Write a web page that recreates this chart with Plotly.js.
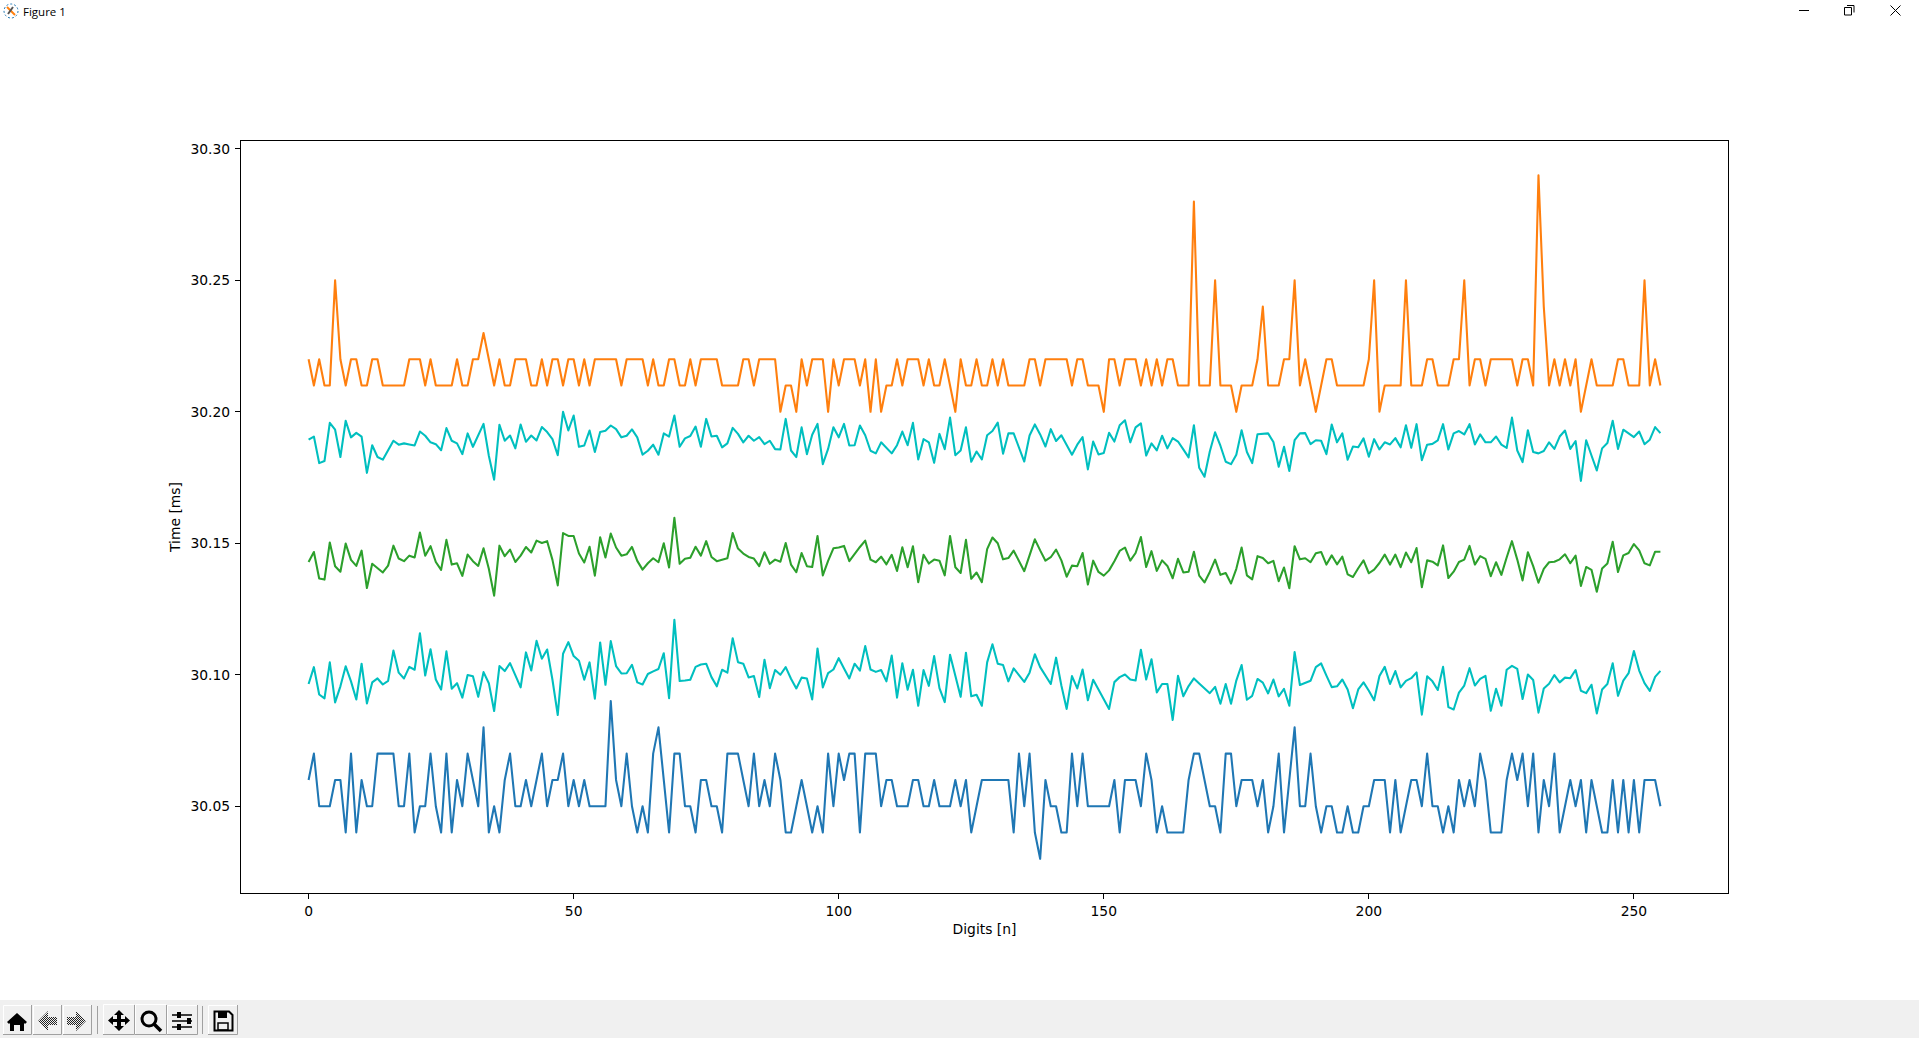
<!DOCTYPE html>
<html>
<head>
<meta charset="utf-8">
<title>Figure 1</title>
<script src="https://cdn.plot.ly/plotly-3.0.1.min.js"></script>
<style>
html,body{margin:0;padding:0;background:#fff;width:1919px;height:1038px;overflow:hidden}
#chart{position:absolute;left:0;top:0;width:1919px;height:1038px}
#chart path.js-line{stroke-linejoin:round !important;stroke-linecap:butt}
#wintitle{position:absolute;left:23px;top:3px;font:11.5px "Open Sans",sans-serif;color:#000;line-height:18px}
#toolbar{position:absolute;left:0;top:1000px;width:1919px;height:38px;background:#f0f0f0}
.ui{position:absolute}
</style>
</head>
<body>
<div id="chart"></div>
<svg class="ui" style="left:2px;top:2px" width="18" height="18" viewBox="0 0 18 18">
<circle cx="9" cy="9" r="7" fill="none" stroke="#1f77b4" stroke-width="1" stroke-dasharray="2 2"/>
<path d="M5 5L13 13" stroke="#ff7f0e" stroke-width="2"/><path d="M11 5L6 12" stroke="#555" stroke-width="2"/>
</svg>
<div id="wintitle">Figure 1</div>
<svg class="ui" style="left:1780px;top:0" width="139" height="30" viewBox="0 0 139 30">
<path d="M19 10.5H29" stroke="#000"/>
<path d="M67 5.5H74V12.5M64.5 7.500H71.500V15H64.500Z" fill="none" stroke="#000"/>
<path d="M110.5 5.5L120.5 15.5M120.5 5.5L110.5 15.5" stroke="#000"/>
</svg>
<div id="toolbar"></div>
<svg class="ui" style="left:0;top:1000px" width="260" height="38" viewBox="0 0 260 38">
<defs>
<pattern id="dither" width="2" height="2" patternUnits="userSpaceOnUse"><rect width="1" height="1" fill="#222"/><rect x="1" y="1" width="1" height="1" fill="#222"/></pattern>
</defs>
<g fill="none">
<path d="M3.5 34V5.5H31" stroke="#fff"/><path d="M31.5 5V34.5H3" stroke="#a0a0a0"/>
<path d="M33.5 34V5.5H61" stroke="#fff"/><path d="M61.5 5V34.5H33" stroke="#a0a0a0"/>
<path d="M63.5 34V5.5H91" stroke="#fff"/><path d="M91.5 5V34.5H63" stroke="#a0a0a0"/>
<path d="M97.5 6V34" stroke="#a0a0a0"/>
<path d="M103.5 34V4.5H134" stroke="#fff"/><path d="M134.5 5V34.5H103" stroke="#a0a0a0"/>
<path d="M135.5 34V4.5H166" stroke="#fff"/><path d="M166.5 5V34.5H135" stroke="#a0a0a0"/>
<path d="M167.5 34V5.5H197" stroke="#fff"/><path d="M197.5 5V34.5H167" stroke="#a0a0a0"/>
<path d="M202.5 6V34" stroke="#a0a0a0"/>
<path d="M208.5 34V5.5H237" stroke="#fff"/><path d="M237.5 5V34.5H208" stroke="#a0a0a0"/>
</g>
<path d="M7 22L17 13L27 22L25 24L24 23V31H20V25H14V31H10V23L9 24Z" fill="#000"/>
<path d="M38 21L48 11V17H57V25H48V31Z" fill="url(#dither)"/>
<path d="M86 21L76 11V17H67V25H76V31Z" fill="url(#dither)"/>
<path d="M119 10L124 15H121V19H125V16L130 20.500L125 25V22H121V26H124L119 31L114 26H117V22H113V25L108 20.500L113 16V19H117V15H114Z" fill="#000"/>
<circle cx="149" cy="19" r="7" fill="none" stroke="#000" stroke-width="3"/>
<path d="M154 24L161 31" stroke="#000" stroke-width="3.500"/>
<path d="M172 15H192M172 21H192M172 27H192" stroke="#000" stroke-width="1.500"/>
<rect x="177" y="12" width="4" height="6" fill="#000"/><rect x="187" y="18" width="4" height="6" fill="#000"/><rect x="177" y="24" width="4" height="6" fill="#000"/>
<path d="M214.500 11.500H229L232.500 15V30.500H214.500Z" fill="none" stroke="#000" stroke-width="2"/>
<rect x="218" y="12" width="9" height="6" fill="#000"/><rect x="218" y="23" width="10" height="7" fill="none" stroke="#000" stroke-width="1.500"/>
</svg>
<script>
const blue = [30.06,30.07,30.05,30.05,30.05,30.06,30.06,30.04,30.07,30.04,30.06,30.05,30.05,30.07,30.07,30.07,30.07,30.05,30.05,30.07,30.04,30.05,30.05,30.07,30.05,30.04,30.07,30.04,30.06,30.05,30.07,30.06,30.05,30.08,30.04,30.05,30.04,30.06,30.07,30.05,30.05,30.06,30.05,30.06,30.07,30.05,30.06,30.06,30.07,30.05,30.06,30.05,30.06,30.05,30.05,30.05,30.05,30.09,30.06,30.05,30.07,30.05,30.04,30.05,30.04,30.07,30.08,30.06,30.04,30.07,30.07,30.05,30.05,30.04,30.06,30.06,30.05,30.05,30.04,30.07,
30.07,30.07,30.06,30.05,30.07,30.05,30.06,30.05,30.07,30.06,30.04,30.04,30.05,30.06,30.05,30.04,30.05,30.04,30.07,30.05,30.07,30.06,30.07,30.07,30.04,30.07,30.07,30.07,30.05,30.06,30.06,30.05,30.05,30.05,30.06,30.06,30.05,30.05,30.06,30.05,30.05,30.05,30.06,30.05,30.06,30.04,30.05,30.06,30.06,30.06,30.06,30.06,30.06,30.04,30.07,30.05,30.07,30.04,30.03,30.06,30.05,30.05,30.04,30.04,30.07,30.05,30.07,30.05,30.05,30.05,30.05,30.05,30.06,30.04,30.06,30.06,30.06,30.05,30.07,30.06,30.04,30.05,30.04,30.04,30.04,30.04,30.06,30.07,30.07,30.06,30.05,30.05,
30.04,30.07,30.07,30.05,30.06,30.06,30.06,30.05,30.06,30.04,30.05,30.07,30.04,30.06,30.08,30.05,30.05,30.07,30.05,30.04,30.05,30.05,30.04,30.04,30.05,30.04,30.04,30.05,30.05,30.06,30.06,30.06,30.04,30.06,30.04,30.05,30.06,30.06,30.05,30.07,30.05,30.05,30.04,30.05,30.04,30.06,30.05,30.06,30.05,30.07,30.06,30.04,30.04,30.04,30.06,30.07,30.06,30.07,30.05,30.07,30.04,30.06,30.05,30.07,30.04,30.05,30.06,30.05,30.06,30.04,30.06,30.05,30.04,30.04,30.06,30.04,30.06,30.04,30.06,30.04,30.06,30.06,30.06,30.05];

const orange = [30.22,30.21,30.22,30.21,30.21,30.25,30.22,30.21,30.22,30.22,30.21,30.21,30.22,30.22,30.21,30.21,30.21,30.21,30.21,30.22,30.22,30.22,30.21,30.22,30.21,30.21,30.21,30.21,30.22,30.21,30.21,30.22,30.22,30.23,30.22,30.21,30.22,30.21,30.21,30.22,30.22,30.22,30.21,30.21,30.22,30.21,30.22,30.22,30.21,30.22,30.22,30.21,30.22,30.21,30.22,30.22,30.22,30.22,30.22,30.21,30.22,30.22,30.22,30.22,30.21,30.22,30.21,30.21,30.22,30.22,30.21,30.21,30.22,30.21,30.22,30.22,30.22,30.22,30.21,30.21,
30.21,30.21,30.22,30.22,30.21,30.22,30.22,30.22,30.22,30.20,30.21,30.21,30.20,30.22,30.21,30.22,30.22,30.22,30.20,30.22,30.21,30.22,30.22,30.22,30.21,30.22,30.20,30.22,30.20,30.21,30.21,30.22,30.21,30.22,30.22,30.22,30.21,30.22,30.21,30.21,30.22,30.21,30.20,30.22,30.21,30.21,30.22,30.21,30.21,30.22,30.21,30.22,30.21,30.21,30.21,30.21,30.22,30.22,30.21,30.22,30.22,30.22,30.22,30.22,30.21,30.22,30.22,30.21,30.21,30.21,30.20,30.22,30.22,30.21,30.22,30.22,30.22,30.21,30.22,30.21,30.22,30.21,30.22,30.22,30.21,30.21,30.21,30.28,30.21,30.21,30.21,30.25,
30.21,30.21,30.21,30.20,30.21,30.21,30.21,30.22,30.24,30.21,30.21,30.21,30.22,30.22,30.25,30.21,30.22,30.21,30.20,30.21,30.22,30.22,30.21,30.21,30.21,30.21,30.21,30.21,30.22,30.25,30.20,30.21,30.21,30.21,30.21,30.25,30.21,30.21,30.21,30.22,30.22,30.21,30.21,30.21,30.22,30.22,30.25,30.21,30.22,30.22,30.21,30.22,30.22,30.22,30.22,30.22,30.21,30.22,30.22,30.21,30.29,30.24,30.21,30.22,30.21,30.22,30.21,30.22,30.20,30.21,30.22,30.21,30.21,30.21,30.21,30.22,30.22,30.21,30.21,30.21,30.25,30.21,30.22,30.21];

const cyanUpper = [30.1894,30.1906,30.1805,30.1813,30.1958,30.1932,30.1828,30.1966,30.1903,30.192,30.1906,30.1768,30.1873,30.1828,30.1818,30.1854,30.189,30.1875,30.188,30.1876,30.1872,30.1925,30.1909,30.1884,30.1877,30.1854,30.1938,30.189,30.188,30.1839,30.1918,30.1867,30.191,30.1954,30.1833,30.1742,30.1951,30.189,30.191,30.1861,30.1952,30.1886,30.191,30.1891,30.1942,30.1923,30.1896,30.1835,30.2,30.1929,30.1986,30.1867,30.1872,30.1929,30.1847,30.1923,30.1928,30.1948,30.1934,30.1903,30.1909,30.1933,30.1903,30.1837,30.1852,30.1875,30.1837,30.1918,30.1906,30.1986,30.1867,30.1899,30.1908,30.1944,30.1867,30.1973,30.1906,30.1909,30.1865,30.188,
30.1939,30.1916,30.1884,30.1909,30.189,30.1904,30.1877,30.189,30.1858,30.1857,30.1973,30.1853,30.1828,30.1941,30.1839,30.1913,30.1954,30.1801,30.1859,30.1941,30.1903,30.1954,30.1872,30.1873,30.1948,30.1911,30.1852,30.1842,30.1884,30.1863,30.1842,30.1873,30.1925,30.1873,30.1958,30.1819,30.1896,30.1884,30.1806,30.1916,30.1858,30.1978,30.1835,30.1853,30.1941,30.181,30.1849,30.1819,30.1911,30.1927,30.1959,30.1841,30.1918,30.1918,30.1866,30.1811,30.191,30.1952,30.1914,30.1868,30.1934,30.1889,30.1911,30.1873,30.1837,30.1875,30.1904,30.1781,30.1887,30.1838,30.1843,30.192,30.1887,30.1949,30.1968,30.1884,30.1941,30.1956,30.1834,30.188,30.1853,30.1909,30.1861,30.19,30.1887,30.1857,30.1827,30.1949,30.1787,30.1753,30.1849,30.1922,
30.1871,30.181,30.1801,30.1837,30.193,30.1847,30.1805,30.1915,30.1916,30.1918,30.1885,30.1791,30.1867,30.1775,30.1892,30.1918,30.1919,30.1877,30.1892,30.189,30.1839,30.1952,30.1884,30.1918,30.1818,30.1868,30.1865,30.1899,30.1829,30.1896,30.1857,30.1884,30.1876,30.19,30.1865,30.1949,30.1863,30.1953,30.1816,30.1875,30.1878,30.1891,30.1953,30.1857,30.1918,30.1927,30.1914,30.1953,30.1876,30.1914,30.1884,30.1884,30.1906,30.1875,30.1863,30.1978,30.1853,30.1809,30.193,30.1847,30.1842,30.1851,30.1884,30.1859,30.1906,30.1929,30.1859,30.1889,30.1737,30.1892,30.1834,30.1777,30.1861,30.1881,30.1966,30.1859,30.1932,30.1918,30.1904,30.1925,30.1877,30.1894,30.1942,30.1919];

const green = [30.1429,30.1467,30.1366,30.1362,30.1503,30.1413,30.1392,30.1499,30.1437,30.1414,30.1472,30.133,30.1422,30.1405,30.1389,30.1415,30.1491,30.1442,30.1432,30.1453,30.1446,30.1541,30.1453,30.1489,30.1429,30.1399,30.1513,30.1419,30.1424,30.1376,30.1457,30.1432,30.1414,30.1481,30.1403,30.1301,30.1491,30.1451,30.1476,30.1429,30.1453,30.1486,30.1465,30.151,30.1501,30.1508,30.1437,30.134,30.1539,30.1528,30.1528,30.1461,30.1427,30.1487,30.1377,30.1523,30.1446,30.1537,30.1484,30.1453,30.1458,30.1486,30.1433,30.14,30.1424,30.1443,30.1428,30.15,30.1408,30.1597,30.1422,30.1441,30.1445,30.1487,30.1453,30.1508,30.1448,30.1432,30.1439,30.1443,
30.1539,30.148,30.1461,30.1448,30.1442,30.1413,30.1466,30.1422,30.1438,30.143,30.1501,30.1419,30.139,30.1463,30.1413,30.141,30.1528,30.1378,30.1433,30.1481,30.1484,30.149,30.1432,30.1461,30.1486,30.151,30.1438,30.1428,30.1449,30.142,30.1456,30.1395,30.1485,30.1409,30.1489,30.1352,30.1456,30.1423,30.1438,30.1434,30.1378,30.1528,30.1409,30.1387,30.1513,30.1365,30.1389,30.1352,30.1478,30.1522,30.15,30.1439,30.1444,30.1472,30.1433,30.1394,30.1454,30.1515,30.1473,30.1434,30.1447,30.1476,30.1435,30.1373,30.1415,30.1413,30.1463,30.1343,30.1434,30.1391,30.1377,30.1397,30.1432,30.1471,30.1484,30.1434,30.1463,30.1524,30.141,30.147,30.1395,30.1435,30.1414,30.1367,30.1441,30.1389,30.1392,30.1468,30.1377,30.1351,30.1391,30.1438,
30.138,30.1387,30.1347,30.1403,30.1484,30.1378,30.1363,30.1451,30.1444,30.1424,30.1433,30.1356,30.1408,30.1329,30.1489,30.1439,30.1443,30.1428,30.1462,30.1467,30.1419,30.1454,30.142,30.1449,30.1382,30.1372,30.1405,30.1435,30.1386,30.14,30.1425,30.1457,30.1419,30.1457,30.1409,30.1465,30.1428,30.1482,30.1333,30.1435,30.143,30.1416,30.1492,30.1368,30.1392,30.1429,30.1438,30.149,30.1419,30.1451,30.1441,30.1375,30.1428,30.138,30.1446,30.1508,30.1438,30.1359,30.1466,30.1413,30.135,30.1403,30.1428,30.143,30.1439,30.1458,30.1424,30.1453,30.1338,30.141,30.1399,30.1316,30.1404,30.1423,30.1506,30.1391,30.1454,30.1463,30.1497,30.1473,30.1424,30.1416,30.1468,30.1468];

const cyanLower = [30.0965,30.1029,30.0925,30.091,30.1047,30.0895,30.0956,30.1032,30.0975,30.0906,30.1042,30.0891,30.0971,30.0986,30.0963,30.0977,30.1092,30.1008,30.0986,30.103,30.1019,30.1158,30.0997,30.1097,30.0982,30.0944,30.1089,30.0947,30.0968,30.0913,30.0999,30.0994,30.0916,30.101,30.0968,30.0862,30.1033,30.1014,30.1044,30.0999,30.0952,30.1085,30.1016,30.1129,30.1061,30.1096,30.0981,30.0847,30.108,30.1124,30.1071,30.1053,30.0981,30.1047,30.0909,30.1123,30.0962,30.1128,30.1033,30.1005,30.1006,30.1038,30.0971,30.0963,30.1003,30.1013,30.1022,30.1082,30.0911,30.1209,30.0976,30.0978,30.0981,30.103,30.1039,30.1042,30.0991,30.0956,30.1019,30.1008,
30.1139,30.1048,30.1042,30.099,30.0995,30.0915,30.1057,30.0949,30.1018,30.1,30.1029,30.0985,30.0948,30.0989,30.0986,30.0906,30.11,30.0952,30.1006,30.102,30.1063,30.1024,30.0986,30.1042,30.1016,30.1109,30.102,30.1011,30.1018,30.0975,30.1073,30.0913,30.1044,30.0943,30.1019,30.0882,30.1018,30.0958,30.1071,30.0949,30.0896,30.1076,30.0991,30.0916,30.1084,30.0918,30.0924,30.0882,30.1047,30.1116,30.1042,30.1037,30.0975,30.1024,30.0999,30.0973,30.1008,30.1078,30.1029,30.0997,30.0965,30.1065,30.0959,30.087,30.0995,30.0948,30.102,30.0903,30.0981,30.0944,30.0908,30.087,30.0972,30.0991,30.1001,30.0982,30.0978,30.1095,30.0982,30.1059,30.0933,30.0965,30.0965,30.0828,30.0996,30.0918,30.0957,30.0986,30.0967,30.0947,30.093,30.0954,
30.089,30.0965,30.089,30.0978,30.1037,30.0905,30.092,30.0984,30.097,30.0929,30.0982,30.0918,30.0946,30.0882,30.1086,30.0961,30.0968,30.0977,30.1029,30.1043,30.0997,30.0953,30.0956,30.0982,30.0944,30.0873,30.0944,30.0971,30.0939,30.0903,30.0995,30.103,30.0965,30.1014,30.0952,30.0977,30.0987,30.1009,30.0848,30.0994,30.0975,30.0942,30.103,30.0877,30.0868,30.0932,30.0959,30.1025,30.0959,30.0984,30.0996,30.0863,30.0947,30.0882,30.1019,30.1034,30.1022,30.0908,30.1001,30.098,30.0856,30.0948,30.0966,30.0999,30.0971,30.0989,30.0987,30.1018,30.0939,30.093,30.0962,30.0853,30.0944,30.0965,30.1044,30.092,30.0978,30.1006,30.109,30.1016,30.0968,30.0939,30.0992,30.1015];

const xTicks = [0,50,100,150,200,250];
const yTicks = [30.05,30.10,30.15,30.20,30.25,30.30];
const yTickLabels = ["30.05","30.10","30.15","30.20","30.25","30.30"];

const digits = blue.map((_, i) => i);
const series = [
  {y: blue, color: "#1f77b4"},
  {y: orange, color: "#ff7f0e"},
  {y: green, color: "#2ca02c"},
  {y: cyanUpper, color: "#00bfbf"},
  {y: cyanLower, color: "#00bfbf"}
];
const traces = series.map(s => ({
  x: digits, y: s.y, type: "scatter", mode: "lines",
  line: {color: s.color, width: 2.08}, hoverinfo: "skip", showlegend: false
}));
const axisFont = {family: "DejaVu Sans", size: 13.89, color: "#000"};
const axisCommon = {
  showgrid: false, zeroline: false, showline: true, mirror: true,
  linecolor: "#000", linewidth: 1.1, ticks: "outside", ticklen: 5, tickwidth: 1.1,
  tickcolor: "#000", tickfont: axisFont, automargin: false
};
Plotly.newPlot("chart", traces, {
  width: 1919, height: 1038,
  paper_bgcolor: "rgba(0,0,0,0)", plot_bgcolor: "#fff",
  margin: {l: 241, r: 191, t: 140.5, b: 145, pad: 0},
  showlegend: false,
  xaxis: Object.assign({}, axisCommon, {
    range: [-12.75, 267.75], tickmode: "array", tickvals: xTicks,
    title: {text: "Digits [n]", font: axisFont, standoff: 6}
  }),
  yaxis: Object.assign({}, axisCommon, {
    range: [30.017, 30.303], tickmode: "array", tickvals: yTicks, ticktext: yTickLabels,
    ticklabelstandoff: 2,
    title: {text: "Time [ms]", font: axisFont, standoff: 6}
  })
}, {displayModeBar: false, staticPlot: true});
</script>
</body>
</html>
